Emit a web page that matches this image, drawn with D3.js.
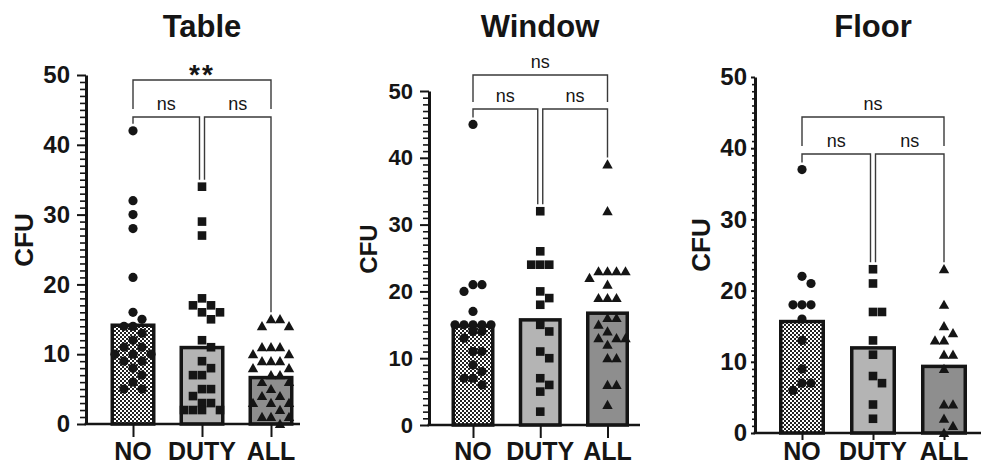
<!DOCTYPE html>
<html><head><meta charset="utf-8">
<script src="https://cdn.jsdelivr.net/npm/d3@7"></script>
<style>
html,body{margin:0;padding:0;background:#fff;}
svg{display:block;font-family:"Liberation Sans",Arial,Helvetica,sans-serif;}
</style></head><body>
<svg id="chart" width="981" height="466"></svg>
<script>
// ---------- data ----------
const categories = ["NO", "DUTY", "ALL"];
const panelTitles = ["Table", "Window", "Floor"];
const yTickValues = [0, 10, 20, 30, 40, 50];
const yAxisLabel = "CFU";

// bar heights (group means)
const tableMeans  = [14.4, 11.2, 6.9];
const windowMeans = [15.1, 16.0, 17.0];
const floorMeans  = [15.9, 12.2, 9.6];

// individual values
const tableNO   = [42, 32, 30, 28, 21, 16, 15, 14, 14, 13, 12, 11, 11, 10, 10, 10, 9, 9, 8, 7, 6, 5, 5];
const tableDUTY = [34, 29, 27, 18, 17, 17, 16, 16, 15, 12, 11, 9, 8, 7, 7, 5, 5, 4, 3, 3, 2, 2, 2, 2];
const tableALL  = [15, 15, 14, 14, 11, 11, 11, 10, 10, 9, 9, 9, 8, 8, 7, 7, 6, 6, 5, 4, 4, 3, 3, 3, 2, 1, 1, 1, 0];

const windowNO   = [45, 21, 21, 20, 17, 15, 15, 15, 15, 15, 14, 14, 13, 11, 11, 9, 8, 7, 7, 6];
const windowDUTY = [32, 26, 24, 24, 24, 20, 19, 18, 15, 14, 11, 10, 7, 6, 5, 2];
const windowALL  = [39, 32, 23, 23, 23, 23, 22, 21, 19, 19, 19, 16, 16, 15, 14, 13, 13, 13, 12, 10, 10, 6, 6, 3];

const floorNO   = [37, 22, 21, 18, 18, 18, 16, 13, 9, 7, 7, 6];
const floorDUTY = [23, 21, 17, 17, 13, 11, 8, 7, 4, 2];
const floorALL  = [23, 18, 15, 14, 13, 13, 11, 11, 9, 4, 4, 2, 1, 0];

// comparisons: [groupA, groupB]
const comparisonPairs = [[0, 1], [1, 2], [0, 2]];
const tableSig  = ["ns", "ns", "**"];
const windowSig = ["ns", "ns", "ns"];
const floorSig  = ["ns", "ns", "ns"];

// ---------- layout (positions / styles) ----------
const panels = [
  { title: panelTitles[0], means: tableMeans, points: [tableNO, tableDUTY, tableALL], sig: tableSig,
    axisX: 86, yTop: 75, yBottom: 424, c0: 133, c2: 271, barW: 45, xEnd: 300,
    majorTick: 9, minorTick: 6, tickFont: 24, tickPad: 7, xTick: 13,
    cfuX: 33, cfuY: 240, cfuFont: 26, titleX: 202, catFont: 25,
    upperY: 80, lowerY: 117, upperLeg: 29 },
  { title: panelTitles[1], means: windowMeans, points: [windowNO, windowDUTY, windowALL], sig: windowSig,
    axisX: 429, yTop: 91, yBottom: 425, c0: 473, c2: 607.5, barW: 43, xEnd: 640,
    majorTick: 9, minorTick: 6, tickFont: 22, tickPad: 7, xTick: 13,
    cfuX: 377, cfuY: 249, cfuFont: 24, titleX: 540, catFont: 25,
    upperY: 75, lowerY: 109, upperLeg: 27 },
  { title: panelTitles[2], means: floorMeans, points: [floorNO, floorDUTY, floorALL], sig: floorSig,
    axisX: 755, yTop: 77, yBottom: 433, c0: 802, c2: 944, barW: 46, xEnd: 981,
    majorTick: 4, minorTick: 3, tickFont: 24, tickPad: 4, xTick: 7,
    cfuX: 710, cfuY: 245, cfuFont: 26, titleX: 873, catFont: 25,
    upperY: 117, lowerY: 154, upperLeg: 29 }
];

const barFills = ["url(#checker)", "#b4b4b4", "#8e8e8e"];
const ink = "#151515";

const svg = d3.select("#chart");
const defs = svg.append("defs");
const pat = defs.append("pattern").attr("id", "checker").attr("patternUnits", "userSpaceOnUse")
  .attr("width", 4).attr("height", 4);
pat.append("rect").attr("width", 4).attr("height", 4).attr("fill", "#fff");
pat.append("rect").attr("x", 0).attr("y", 0).attr("width", 2).attr("height", 2).attr("fill", "#222");
pat.append("rect").attr("x", 2).attr("y", 2).attr("width", 2).attr("height", 2).attr("fill", "#222");

// deterministic swarm: spread points that would overlap
function swarmOffsets(values, yScale, step, maxK) {
  const placed = [];
  const cands = [0];
  for (let k = 1; k <= maxK; k++) cands.push(k * step, -k * step);
  return values.map(v => {
    const py = yScale(v);
    let best = null, bestScore = -Infinity;
    for (const c of cands) {
      let minD = Infinity;
      for (const q of placed) {
        if (Math.abs(q.y - py) < 9 && Math.abs(q.x - c) < 8.5) {
          minD = Math.min(minD, Math.hypot(q.x - c, q.y - py));
        }
      }
      if (minD === Infinity) { best = c; bestScore = Infinity; break; }
      if (minD > bestScore) { bestScore = minD; best = c; }
    }
    placed.push({ x: best, y: py });
    return best;
  });
}

const symbolDraw = [
  (g, x, y) => g.append("circle").attr("cx", x).attr("cy", y).attr("r", 4.6),
  (g, x, y) => g.append("rect").attr("x", x - 4.3).attr("y", y - 4.3).attr("width", 8.6).attr("height", 8.6),
  (g, x, y) => g.append("path").attr("d", `M${x},${y - 5.2}L${x + 5.2},${y + 4}L${x - 5.2},${y + 4}Z`)
];

panels.forEach(p => {
  const g = svg.append("g");
  const y = d3.scaleLinear().domain([0, 50]).range([p.yBottom, p.yTop]);
  const x = d3.scalePoint().domain(categories).range([p.c0, p.c2]);

  // bars
  const sw = 3.5;
  g.selectAll("rect.bar").data(p.means).join("rect").attr("class", "bar")
    .attr("x", (d, i) => x(categories[i]) - p.barW / 2 + sw / 2)
    .attr("width", p.barW - sw)
    .attr("y", d => y(d) + sw / 2)
    .attr("height", d => p.yBottom - y(d) - sw / 2)
    .attr("fill", (d, i) => barFills[i])
    .attr("stroke", ink).attr("stroke-width", sw);

  // points
  const pg = g.append("g").attr("fill", ink);
  p.points.forEach((vals, gi) => {
    const offs = swarmOffsets(vals, y, 9, 2);
    vals.forEach((v, j) => symbolDraw[gi](pg, x(categories[gi]) + offs[j], y(v)));
  });

  // y axis minor
  const minor = d3.range(0, 51, 1).filter(v => v % 10 !== 0);
  g.append("g").attr("transform", `translate(${p.axisX},0)`)
    .call(d3.axisLeft(y).tickValues(minor).tickSize(p.minorTick).tickFormat(""))
    .call(a => a.select(".domain").remove())
    .call(a => a.selectAll("line").attr("stroke", ink).attr("stroke-width", 1.6));
  // y axis major
  g.append("g").attr("transform", `translate(${p.axisX},0)`)
    .call(d3.axisLeft(y).tickValues(yTickValues).tickSize(p.majorTick).tickSizeOuter(0).tickPadding(p.tickPad))
    .call(a => a.select(".domain").attr("stroke", ink).attr("stroke-width", 3))
    .call(a => a.selectAll("line").attr("stroke", ink).attr("stroke-width", 2))
    .call(a => a.selectAll("text").attr("fill", ink).attr("font-size", p.tickFont)
      .attr("font-weight", "bold").attr("font-family", "'Liberation Sans',Arial,sans-serif"));

  // x axis
  g.append("line").attr("x1", p.axisX - 1.5).attr("x2", p.xEnd).attr("y1", p.yBottom).attr("y2", p.yBottom)
    .attr("stroke", ink).attr("stroke-width", 2.5);
  g.append("g").attr("transform", `translate(0,${p.yBottom})`)
    .call(d3.axisBottom(x).tickSize(p.xTick).tickSizeOuter(0).tickFormat(""))
    .call(a => a.select(".domain").remove())
    .call(a => a.selectAll("line").attr("stroke", ink).attr("stroke-width", 2));
  g.selectAll("text.cat").data(categories).join("text").attr("class", "cat")
    .attr("x", d => x(d)).attr("y", 460).attr("text-anchor", "middle")
    .attr("font-size", p.catFont).attr("font-weight", "bold").attr("fill", ink).text(d => d);

  // y label
  g.append("text").attr("transform", `translate(${p.cfuX},${p.cfuY}) rotate(-90)`)
    .attr("text-anchor", "middle").attr("font-size", p.cfuFont).attr("font-weight", "bold")
    .attr("fill", ink).text(yAxisLabel);

  // title
  g.append("text").attr("x", p.titleX).attr("y", 37).attr("text-anchor", "middle")
    .attr("font-size", 31).attr("font-weight", "bold").attr("fill", ink).text(p.title);

  // significance brackets
  const bg = g.append("g").attr("fill", "none").attr("stroke", "#3a3a3a").attr("stroke-width", 1.4);
  const legBottom = gi => y(d3.max(p.points[gi])) - 7;
  comparisonPairs.forEach(([a, b], ci) => {
    const label = p.sig[ci];
    let xa = x(categories[a]), xb = x(categories[b]), hy, ya, yb;
    if (b - a === 2) {
      hy = p.upperY; ya = yb = p.upperY + p.upperLeg;
    } else {
      hy = p.lowerY;
      if (a === 1) xa += 2.5;
      if (b === 1) xb -= 2.5;
      ya = legBottom(a); yb = legBottom(b);
    }
    bg.append("path").attr("d", `M${xa},${ya}V${hy}H${xb}V${yb}`);
    const isStar = label.indexOf("*") >= 0;
    g.append("text").attr("x", (xa + xb) / 2).attr("y", isStar ? hy + 4 : hy - 7)
      .attr("text-anchor", "middle").attr("fill", ink)
      .attr("font-size", isStar ? 28 : 18).attr("font-weight", isStar ? "bold" : "normal")
      .attr("letter-spacing", isStar ? 2 : 0)
      .text(label);
  });
});
</script>
</body></html>
